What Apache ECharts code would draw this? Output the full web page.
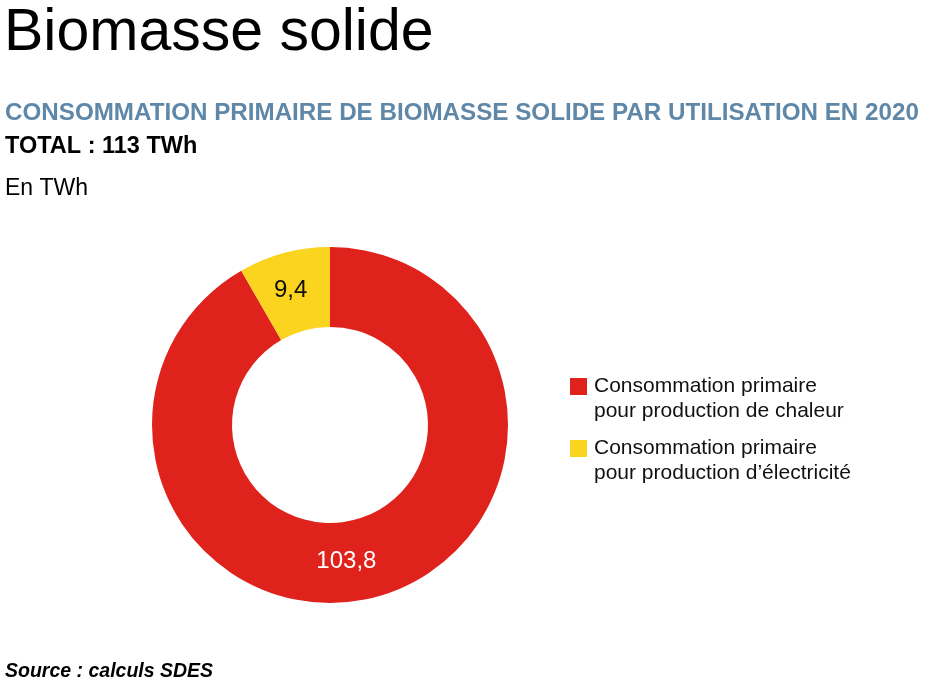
<!DOCTYPE html>
<html>
<head>
<meta charset="utf-8">
<script src="https://cdn.jsdelivr.net/npm/echarts@6/dist/echarts.min.js"></script>
<style>
html,body{margin:0;padding:0;background:#fff;}
#chart{width:926px;height:680px;}
</style>
</head>
<body>
<div id="chart"></div>
<script>
var categories = [
  "Consommation primaire\npour production de chaleur",
  "Consommation primaire\npour production d\u2019\u00e9lectricit\u00e9"
];
var values = [103.8, 9.4];
var colors = ["#DF221B", "#FAD41F"];
var labelColors = ["#ffffff", "#111111"];

var FONT = "'Liberation Sans', Arial, Helvetica, sans-serif";
var chart = echarts.init(document.getElementById('chart'));
var data = categories.map(function (c, i) {
  return {
    name: c,
    value: values[i],
    itemStyle: { color: colors[i] },
    label: { color: labelColors[i], offset: i === 0 ? [-20, 0] : [-3, 2] }
  };
});
chart.setOption({
  animation: false,
  backgroundColor: '#ffffff',
  title: [
    { text: 'Biomasse solide', left: 4, top: 4, padding: 0,
      textStyle: { fontFamily: FONT, fontSize: 59, fontWeight: 'normal', color: '#000' } },
    { text: 'CONSOMMATION PRIMAIRE DE BIOMASSE SOLIDE PAR UTILISATION EN 2020', left: 5, top: 101, padding: 0,
      textStyle: { fontFamily: FONT, fontSize: 24.2, fontWeight: 'bold', color: '#5F87A8' } },
    { text: 'TOTAL : 113 TWh', left: 5, top: 135, padding: 0,
      textStyle: { fontFamily: FONT, fontSize: 23.5, fontWeight: 'bold', color: '#000' } },
    { text: 'En TWh', left: 5, top: 177, padding: 0,
      textStyle: { fontFamily: FONT, fontSize: 23, fontWeight: 'normal', color: '#000' } },
    { text: '{b|Source :} {i|calculs SDES}', left: 5, top: 662, padding: 0,
      textStyle: { fontFamily: FONT, fontSize: 19.5, color: '#000',
        rich: {
          b: { fontFamily: FONT, fontSize: 19.5, fontWeight: 'bold', fontStyle: 'italic', color: '#000' },
          i: { fontFamily: FONT, fontSize: 19.5, fontStyle: 'italic', color: '#000' }
        } } }
  ],
  legend: {
    orient: 'vertical',
    left: 570,
    top: 349,
    padding: 0,
    itemWidth: 17,
    itemHeight: 17,
    itemGap: -13,
    icon: 'rect',
    selectedMode: false,
    data: categories,
    formatter: function (name) { return '\n' + name; },
    textStyle: { fontFamily: FONT, fontSize: 21, color: '#111', lineHeight: 25, padding: [0, 0, 0, 2] }
  },
  series: [{
    type: 'pie',
    center: [330, 425],
    radius: [98, 178],
    startAngle: 90,
    clockwise: true,
    avoidLabelOverlap: false,
    label: {
      show: true,
      position: 'inside',
      fontFamily: FONT,
      fontSize: 24,
      formatter: function (p) { return p.value.toFixed(1).replace('.', ','); }
    },
    labelLine: { show: false },
    emphasis: { disabled: true },
    itemStyle: { borderWidth: 0 },
    data: data
  }]
});
</script>
</body>
</html>
